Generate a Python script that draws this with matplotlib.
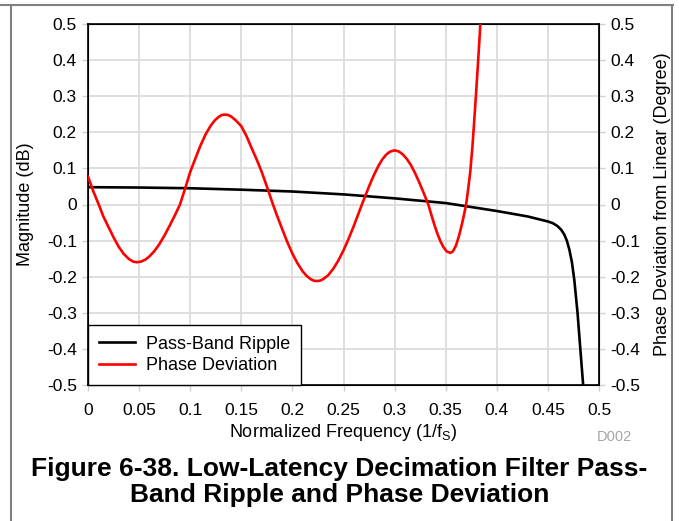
import numpy as np
import matplotlib.pyplot as plt
from matplotlib.lines import Line2D

plt.rcParams['font.family'] = ['Liberation Sans', 'DejaVu Sans']

# pass-band ripple (dB)
ripple_f = [0, 0.05, 0.1, 0.15, 0.2, 0.25, 0.3, 0.35, 0.4, 0.43, 0.44, 0.45,
            0.455, 0.4595, 0.463, 0.466, 0.4685, 0.471, 0.4735, 0.4758, 0.479,
            0.482, 0.4845]
ripple_db = [0.048, 0.047, 0.045, 0.041, 0.036, 0.028, 0.017, 0.004, -0.018,
             -0.033, -0.04, -0.047, -0.052, -0.06, -0.07, -0.083, -0.1, -0.125,
             -0.16, -0.208, -0.3, -0.41, -0.5]

# phase deviation (degree)
phase_f = [0, 0.005, 0.0105, 0.015, 0.02, 0.025, 0.03, 0.035, 0.04, 0.044, 0.048,
           0.052, 0.056, 0.06, 0.065, 0.07, 0.075, 0.08, 0.085, 0.09,
           0.095, 0.1, 0.105, 0.11, 0.115, 0.12, 0.124, 0.128, 0.131, 0.134,
           0.137, 0.14, 0.145, 0.15, 0.155, 0.16, 0.165, 0.17, 0.175, 0.181,
           0.185, 0.19, 0.195, 0.2, 0.205, 0.21, 0.214, 0.218, 0.221, 0.224,
           0.227, 0.23, 0.235, 0.24, 0.245, 0.25, 0.255, 0.26, 0.264, 0.268,
           0.272, 0.276, 0.28, 0.284, 0.288, 0.292, 0.296, 0.3,
           0.304, 0.308, 0.312, 0.316, 0.32, 0.324, 0.328, 0.333,
           0.336, 0.339, 0.342, 0.345, 0.348, 0.351, 0.3545,
           0.357, 0.36, 0.363, 0.366, 0.368, 0.37,
           0.372, 0.374, 0.376, 0.378, 0.38, 0.382, 0.3835, 0.385]
phase_deg = [0.077, 0.038, 0.0, -0.033, -0.062, -0.091, -0.117, -0.137, -0.151, -0.158, -0.16,
             -0.158, -0.153, -0.144, -0.129, -0.109, -0.085, -0.058, -0.03, 0.0,
             0.044, 0.09, 0.127, 0.163, 0.194, 0.218, 0.233, 0.243, 0.248, 0.249,
             0.248, 0.244, 0.232, 0.217, 0.19, 0.157, 0.125, 0.09, 0.05, 0.0,
             -0.031, -0.068, -0.104, -0.136, -0.163, -0.185, -0.198, -0.207, -0.211, -0.212,
             -0.211, -0.207, -0.196, -0.178, -0.155, -0.127, -0.095, -0.06, -0.03, 0.0,
             0.029, 0.057, 0.083, 0.106, 0.125, 0.139, 0.147, 0.15,
             0.147, 0.139, 0.126, 0.109, 0.087, 0.062, 0.035, 0.0,
             -0.029, -0.057, -0.082, -0.103, -0.119, -0.13, -0.134,
             -0.13, -0.114, -0.087, -0.053, -0.027, 0.0,
             0.043, 0.09, 0.155, 0.235, 0.32, 0.41, 0.48, 0.56]

x_ticks = [0, 0.05, 0.1, 0.15, 0.2, 0.25, 0.3, 0.35, 0.4, 0.45, 0.5]
x_labels = ['0', '0.05', '0.1', '0.15', '0.2', '0.25', '0.3', '0.35', '0.4', '0.45', '0.5']
y_ticks = [-0.5, -0.4, -0.3, -0.2, -0.1, 0, 0.1, 0.2, 0.3, 0.4, 0.5]
y_labels = ['-0.5', '-0.4', '-0.3', '-0.2', '-0.1', '0', '0.1', '0.2', '0.3', '0.4', '0.5']

fig = plt.figure(figsize=(6.79, 5.21), dpi=100)
ax = fig.add_axes([88 / 679, 136 / 521, 511 / 679, 361 / 521])
ax2 = ax.twinx()

ax.plot(ripple_f, ripple_db, color='black', lw=1.9, zorder=3)
ax2.plot(phase_f, phase_deg, color='#ff0000', lw=1.9, zorder=3)

for a in (ax, ax2):
    a.set_xlim(0, 0.5)
    a.set_ylim(-0.5, 0.5)
    a.set_yticks(y_ticks)
    a.set_yticklabels(y_labels)
    a.tick_params(labelsize=12.5, length=4, color='#d0d0d0', width=1, pad=4)
ax.set_xticks(x_ticks)
ax.set_xticklabels(x_labels)
ax.tick_params(axis='x', pad=9)
ax.grid(True, color='#d9d9d9', lw=1.2)
ax.set_axisbelow(True)
for s in ax2.spines.values():
    s.set_linewidth(1.2)

ax.set_xlabel('Normalized Frequency (1/f$_\\mathregular{S}$)', fontsize=13, labelpad=3)
ax.set_ylabel('Magnitude (dB)', fontsize=13, labelpad=9)
ax2.set_ylabel('Phase Deviation from Linear (Degree)', fontsize=13, labelpad=10)

handles = [Line2D([], [], color='black', lw=1.9), Line2D([], [], color='#ff0000', lw=1.9)]
leg = ax2.legend(handles, ['Pass-Band Ripple', 'Phase Deviation'], loc='lower left',
                 bbox_to_anchor=(0, 0), borderaxespad=0, fontsize=13, fancybox=False,
                 framealpha=1, edgecolor='black', handlelength=2.0, handletextpad=0.6,
                 borderpad=0.6, labelspacing=0.25)
leg.get_frame().set_linewidth(1.0)

fig.text(632 / 679, 1 - 437 / 521, 'D002', ha='right', va='center', fontsize=10.5, color='#a6a6a6')
fig.text(0.5, 1 - 482 / 521, 'Figure 6-38. Low-Latency Decimation Filter Pass-\nBand Ripple and Phase Deviation',
         ha='center', va='center', fontsize=19, fontweight='bold', linespacing=1.15)

# page frame
fig.add_artist(Line2D([0, 673 / 679], [1 - 5 / 521] * 2, color='#808080', lw=1.5))
fig.add_artist(Line2D([11 / 679] * 2, [0, 1 - 5 / 521], color='#808080', lw=1.5))
fig.add_artist(Line2D([672 / 679] * 2, [0, 1 - 5 / 521], color='#808080', lw=1.5))

fig.savefig('out.png', dpi=100)
